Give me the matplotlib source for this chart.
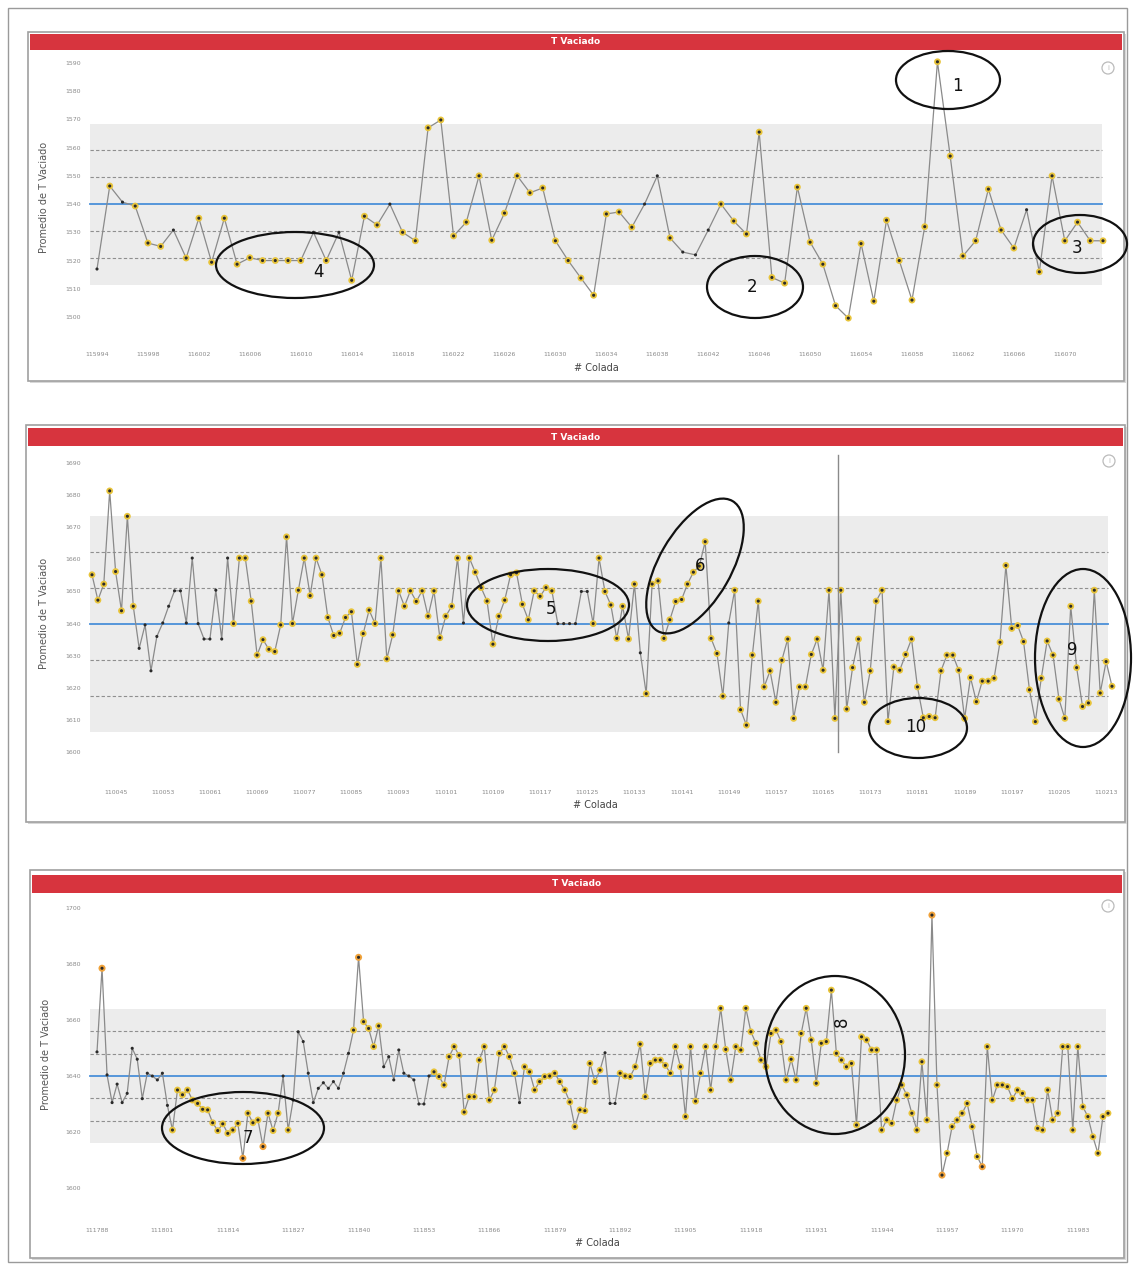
import matplotlib
matplotlib.use("Agg")
import matplotlib.pyplot as plt
from matplotlib.patches import Rectangle, Ellipse, Circle
import numpy as np

# ---------------- DATA ----------------
# Panel 1 (top)
p1_values = [1517, 1546.4, 1540.7, 1539.3, 1526.2, 1525, 1530.8, 1520.9, 1535, 1519.4,
             1535, 1518.7, 1521, 1520, 1520, 1520, 1520, 1530, 1520, 1530,
             1513, 1535.7, 1532.6, 1540, 1530, 1527, 1567, 1569.8, 1528.7, 1533.6,
             1550, 1527.2, 1536.8, 1550, 1544, 1545.7, 1527, 1520, 1513.8, 1507.7,
             1536.5, 1537.2, 1531.8, 1540, 1550, 1528, 1523, 1522, 1530.8, 1540,
             1534, 1529.4, 1565.5, 1514, 1512, 1546, 1526.5, 1518.7, 1504, 1499.6,
             1526, 1505.6, 1534.3, 1520, 1506, 1532, 1590.4, 1557, 1521.6, 1527,
             1545.3, 1530.8, 1524.4, 1538, 1516, 1550, 1527, 1533.6, 1527, 1527]
p1_flags = [0, 1, 0, 1, 1, 1, 0, 1, 1, 1,
            1, 1, 1, 1, 1, 1, 1, 0, 1, 0,
            1, 1, 1, 0, 1, 1, 1, 1, 1, 1,
            1, 1, 1, 1, 1, 1, 1, 1, 1, 1,
            1, 1, 1, 0, 0, 1, 0, 0, 0, 1,
            1, 1, 1, 1, 1, 1, 1, 1, 1, 1,
            1, 1, 1, 1, 1, 1, 1, 1, 1, 1,
            1, 1, 1, 0, 1, 1, 1, 1, 1, 1]
p1_ticklabels = ['115994', '115998', '116002', '116006', '116010', '116014', '116018',
                 '116022', '116026', '116030', '116034', '116038', '116042', '116046',
                 '116050', '116054', '116058', '116062', '116066', '116070']
p1_yticks = [1500, 1510, 1520, 1530, 1540, 1550, 1560, 1570, 1580, 1590]
p1_center, p1_sigma = 1540, 9.5

# Panel 2 (middle)
p2_values = [1655.2, 1647.3, 1652.3, 1681.3, 1656.2, 1644.0, 1673.4, 1645.4, 1632.3, 1639.6,
             1625.3, 1636.0, 1640.2, 1645.4, 1650.2, 1650.2, 1640.2, 1660.4, 1640.0, 1635.2,
             1635.2, 1650.4, 1635.2, 1660.4, 1640.0, 1660.4, 1660.4, 1647.0, 1630.2, 1635.0,
             1632.0, 1631.3, 1639.6, 1667.0, 1640.0, 1650.4, 1660.4, 1648.7, 1660.4, 1655.2,
             1641.9, 1636.3, 1637.0, 1641.9, 1643.7, 1627.3, 1636.9, 1644.2, 1640.0, 1660.4,
             1629.0, 1636.5, 1650.2, 1645.4, 1650.2, 1646.9, 1650.2, 1642.3, 1650.2, 1635.6,
             1642.3, 1645.4, 1660.4, 1640.2, 1660.4, 1656.0, 1651.2, 1647.0, 1633.6, 1642.3,
             1647.3, 1655.2, 1655.8, 1646.0, 1641.2, 1650.2, 1648.5, 1651.2, 1650.2, 1640.0,
             1640.0, 1640.0, 1640.0, 1650.0, 1650.0, 1640.0, 1660.4, 1650.0,
             1645.8, 1635.4, 1645.4, 1635.2, 1652.3, 1630.9, 1618.2, 1652.3, 1653.3, 1635.4,
             1641.2, 1646.9, 1647.5, 1652.3, 1656.0, 1657.9, 1665.5, 1635.4, 1630.7, 1617.4,
             1640.2, 1650.4, 1613.2, 1608.4, 1630.2, 1647.0, 1620.3, 1625.3, 1615.5, 1628.6,
             1635.2, 1610.5, 1620.3, 1620.3, 1630.4, 1635.2, 1625.5, 1650.4, 1610.5, 1650.4,
             1613.4, 1626.3, 1635.2, 1615.5, 1625.3, 1647.0, 1650.4, 1609.5, 1626.5, 1625.5,
             1630.4, 1635.2, 1620.3, 1610.7, 1611.1, 1610.7, 1625.3, 1630.2, 1630.2, 1625.5,
             1610.5, 1623.2, 1615.7, 1622.1, 1622.1, 1623.0, 1634.2, 1658.1, 1638.5, 1639.4,
             1634.4, 1619.4, 1609.5, 1623.0, 1634.6, 1630.2, 1616.5, 1610.5, 1645.4, 1626.3,
             1614.2, 1615.3, 1650.4, 1618.4, 1628.2, 1620.5]
p2_flags = [1, 1, 1, 1, 1, 1, 1, 1, 0, 0,
            0, 0, 0, 0, 0, 0, 0, 0, 0, 0,
            0, 0, 0, 0, 1, 1, 1, 1, 1, 1,
            1, 1, 1, 1, 1, 1, 1, 1, 1, 1,
            1, 1, 1, 1, 1, 1, 1, 1, 1, 1,
            1, 1, 1, 1, 1, 1, 1, 1, 1, 1,
            1, 1, 1, 0, 1, 1, 1, 1, 1, 1,
            1, 1, 1, 1, 1, 1, 1, 1, 1, 0,
            0, 0, 0, 0, 0, 1, 1, 1,
            1, 1, 1, 1, 1, 0, 1, 1, 1, 1,
            1, 1, 1, 1, 1, 1, 1, 1, 1, 1,
            0, 1, 1, 1, 1, 1, 1, 1, 1, 1,
            1, 1, 1, 1, 1, 1, 1, 1, 1, 1,
            1, 1, 1, 1, 1, 1, 1, 1, 1, 1,
            1, 1, 1, 1, 1, 1, 1, 1, 1, 1,
            1, 1, 1, 1, 1, 1, 1, 1, 1, 1,
            1, 1, 1, 1, 1, 1, 1, 1, 1, 1,
            1, 1, 1, 1, 1, 1]
p2_first_tick = 4
p2_ticklabels = ['110045', '110053', '110061', '110069', '110077', '110085', '110093',
                 '110101', '110109', '110117', '110125', '110133', '110141', '110149',
                 '110157', '110165', '110173', '110181', '110189', '110197', '110205',
                 '110213', '110221']
p2_yticks = [1600, 1610, 1620, 1630, 1640, 1650, 1660, 1670, 1680, 1690]
p2_center, p2_sigma = 1640, 11.2

# Panel 3 (bottom)
p3_values = [1648.6, 1678.5, 1640.4, 1630.5, 1637.1, 1630.5, 1633.8, 1649.9, 1646.0, 1631.9,
             1641.0, 1640.0, 1638.6, 1641.0, 1629.5, 1620.7, 1635.0, 1633.3, 1635.0, 1631.4,
             1630.2, 1628.1, 1627.9, 1623.3, 1620.5, 1622.9, 1619.5, 1620.7, 1623.1, 1610.6,
             1626.7, 1623.3, 1624.3, 1614.8, 1626.7, 1620.5, 1626.7, 1640.0, 1620.7, 1631.4,
             1655.8, 1652.3, 1641.0, 1630.5, 1635.6, 1637.6, 1635.6, 1638.0, 1635.6, 1641.0,
             1648.1, 1656.4, 1682.4, 1659.4, 1657.0, 1650.5, 1657.9, 1643.3, 1646.9, 1638.6,
             1649.3, 1641.0, 1640.0, 1638.6, 1630.0, 1630.0, 1640.0, 1641.5, 1639.8, 1636.8,
             1646.9, 1650.5, 1647.4, 1627.1, 1632.6, 1632.6, 1645.7, 1650.5, 1631.4, 1635.0,
             1648.1, 1650.5, 1646.9, 1641.0, 1630.5, 1643.3, 1641.5, 1635.0, 1638.0, 1639.8,
             1640.0, 1641.0, 1638.0, 1635.0, 1630.7, 1621.9, 1627.9, 1627.6, 1644.5, 1638.0,
             1642.1, 1648.3, 1630.2, 1630.2, 1641.0, 1640.0, 1639.8, 1643.3, 1651.4, 1632.6,
             1644.5, 1645.7, 1645.7, 1643.8, 1641.0, 1650.5, 1643.3, 1625.5, 1650.5, 1631.0,
             1641.0, 1650.5, 1635.0, 1650.5, 1664.2, 1649.5, 1638.6, 1650.5, 1649.3, 1664.2,
             1655.8, 1651.7, 1645.7, 1643.3, 1655.2, 1656.4, 1652.3, 1638.6, 1646.0, 1638.6,
             1655.2, 1664.2, 1652.9, 1637.4, 1651.7, 1652.3, 1670.7, 1648.1, 1645.7, 1643.3,
             1644.5, 1622.5, 1654.0, 1652.9, 1649.3, 1649.3, 1620.7, 1624.3, 1623.1, 1631.4,
             1636.8, 1633.2, 1626.7, 1620.7, 1645.1, 1624.3, 1697.5, 1636.8, 1604.6, 1612.4,
             1621.9, 1624.3, 1626.7, 1630.2, 1621.9, 1611.2, 1607.6, 1650.5, 1631.4, 1636.8,
             1636.8, 1636.2, 1631.9, 1635.0, 1633.8, 1631.4, 1631.4, 1621.3, 1620.7, 1635.0,
             1624.3, 1626.7, 1650.5, 1650.5, 1620.7, 1650.5, 1629.0, 1625.5, 1618.3, 1612.4,
             1625.5, 1626.7]
p3_flags = [0, 2, 0, 0, 0, 0, 0, 0, 0, 0,
            0, 0, 0, 0, 0, 1, 1, 1, 1, 1,
            1, 1, 1, 1, 1, 1, 1, 1, 1, 2,
            1, 1, 1, 2, 1, 1, 1, 0, 1, 0,
            0, 0, 0, 0, 0, 0, 0, 0, 0, 0,
            0, 1, 2, 1, 1, 1, 1, 0, 0, 0,
            0, 0, 0, 0, 0, 0, 0, 1, 1, 1,
            1, 1, 1, 1, 1, 1, 1, 1, 1, 1,
            1, 1, 1, 1, 0, 1, 1, 1, 1, 1,
            1, 1, 1, 1, 1, 1, 1, 1, 1, 1,
            1, 0, 0, 0, 1, 1, 1, 1, 1, 1,
            1, 1, 1, 1, 1, 1, 1, 1, 1, 1,
            1, 1, 1, 1, 1, 1, 1, 1, 1, 1,
            1, 1, 1, 1, 1, 1, 1, 1, 1, 1,
            1, 1, 1, 1, 1, 1, 1, 1, 1, 1,
            1, 1, 1, 1, 1, 1, 1, 1, 1, 1,
            1, 1, 1, 1, 1, 1, 2, 1, 2, 1,
            1, 1, 1, 1, 1, 1, 2, 1, 1, 1,
            1, 1, 1, 1, 1, 1, 1, 1, 1, 1,
            1, 1, 1, 1, 1, 1, 1, 1, 1, 1,
            1, 1]
p3_ticklabels = ['111788', '111801', '111814', '111827', '111840', '111853', '111866',
                 '111879', '111892', '111905', '111918', '111931', '111944', '111957',
                 '111970', '111983']
p3_yticks = [1600, 1620, 1640, 1660, 1680, 1700]
p3_center, p3_sigma = 1640, 8.0

# ---------------- STYLE / LAYOUT ----------------
W, H = 1134, 1268
fig = plt.figure(figsize=(W / 100, H / 100), dpi=100)
fig.patch.set_facecolor('white')

bg = fig.add_axes([0, 0, 1, 1], zorder=0)
bg.set_xlim(0, W)
bg.set_ylim(H, 0)
bg.axis('off')

ov = fig.add_axes([0, 0, 1, 1], zorder=10)
ov.set_xlim(0, W)
ov.set_ylim(H, 0)
ov.axis('off')
ov.patch.set_alpha(0)

RED = '#D7343E'
YEL = '#E8C43A'
ORA = '#F0A23A'


def px_axes(L, T, R, B):
    return fig.add_axes([L / W, 1 - B / H, (R - L) / W, (B - T) / H], zorder=5)


# outer frame
bg.add_patch(Rectangle((8, 8), 1119, 1254, fill=False, ec='#9a9a9a', lw=1.0))

panels = [
    dict(values=p1_values, flags=p1_flags, labels=p1_ticklabels, yt=p1_yticks,
         c=p1_center, s=p1_sigma, first_tick=0, step=4,
         box=(28, 32, 1124, 381), bar=(34, 50), ax=(85, 55, 1112, 330),
         xfirst=97, xlast=1103, ylims=(1495.4, 1592.8),
         ticky=352, xlaby=368, ylabx=44),
    dict(values=p2_values, flags=p2_flags, labels=p2_ticklabels, yt=p2_yticks,
         c=p2_center, s=p2_sigma, first_tick=p2_first_tick, step=8,
         box=(26, 425, 1125, 822), bar=(428, 446), ax=(85, 452, 1118, 765),
         xfirst=92, xlast=1112, ylims=(1596.0, 1693.4),
         ticky=790, xlaby=805, ylabx=44),
    dict(values=p3_values, flags=p3_flags, labels=p3_ticklabels, yt=p3_yticks,
         c=p3_center, s=p3_sigma, first_tick=0, step=13,
         box=(30, 870, 1124, 1258), bar=(875, 893), ax=(85, 898, 1116, 1200),
         xfirst=97, xlast=1108, ylims=(1595.7, 1703.6),
         ticky=1228, xlaby=1243, ylabx=46),
]

for p in panels:
    L, T, R, B = p['box']
    bg.add_patch(Rectangle((L + 2, T + 2), R - L, B - T, fc='#d8d8d8', ec='none'))
    bg.add_patch(Rectangle((L, T), R - L, B - T, fc='white', ec='#a0a0a0', lw=1.2))
    t0, t1 = p['bar']
    bg.add_patch(Rectangle((L + 2, t0), R - L - 4, t1 - t0, fc=RED, ec='none'))
    bg.text((L + R) / 2, (t0 + t1) / 2, 'T Vaciado', color='white', fontsize=6.5,
            fontweight='bold', ha='center', va='center')

    vals = np.array(p['values'], dtype=float)
    flg = np.array(p['flags'][:len(vals)] + [1] * max(0, len(vals) - len(p['flags'])))
    n = len(vals)
    x = np.arange(n)
    aL, aT, aR, aB = p['ax']
    sp = (p['xlast'] - p['xfirst']) / (n - 1)
    ax = px_axes(aL, aT, aR, aB)
    ax.set_xlim((aL - p['xfirst']) / sp, (aR - p['xfirst']) / sp)
    ax.set_ylim(*p['ylims'])
    ax.patch.set_alpha(0)
    for sname in ax.spines:
        ax.spines[sname].set_visible(False)

    c, s = p['c'], p['s']
    ax.axhspan(c - 3 * s, c + 3 * s, xmin=0.005, xmax=0.99, color='#ececec', zorder=0, lw=0)
    for k in (-2, -1, 1, 2):
        ax.axhline(c + k * s, xmin=0.005, xmax=0.99, color='#8f8f8f', lw=0.8,
                   ls=(0, (3, 2)), zorder=1)
    ax.axhline(c, xmin=0.005, xmax=0.99, color='#4a90d9', lw=1.3, zorder=1)

    ax.plot(x, vals, color='#8a8a8a', lw=0.9, zorder=3)
    m1 = flg == 1
    m2 = flg == 2
    ax.scatter(x[m1], vals[m1], s=24, color=YEL, edgecolors='none', zorder=4)
    ax.scatter(x[m2], vals[m2], s=26, color=ORA, edgecolors='none', zorder=4)
    ax.scatter(x, vals, s=5, color='#2a2a2a', edgecolors='none', zorder=5)

    ax.set_yticks(p['yt'])
    ax.set_yticklabels([str(v) for v in p['yt']], fontsize=4.5, color='#8a8a8a')
    ticks = list(range(p['first_tick'], n, p['step']))[:len(p['labels'])]
    ax.set_xticks(ticks)
    ax.set_xticklabels(p['labels'][:len(ticks)], fontsize=4.5, color='#8a8a8a')
    ax.tick_params(length=0, pad=3)
    ax.tick_params(axis='x', pad=(p['ticky'] - aB) * 0.72)

    bg.text(p['ylabx'], (aT + aB) / 2 + 5, 'Promedio de T Vaciado', rotation=90,
            fontsize=7, color='#555555', ha='center', va='center')
    bg.text((L + R) / 2 + 20, p['xlaby'], '# Colada', fontsize=7, color='#444444',
            ha='center', va='center')
    # info icon
    bg.add_patch(Circle((R - 16, T + 36), 6, fill=False, ec='#bbbbbb', lw=0.9))
    bg.text(R - 16, T + 36, 'i', fontsize=5, color='#bbbbbb', ha='center', va='center')

# vertical cursor line in middle panel
ov.plot([838, 838], [455, 752], color='#8a8a8a', lw=1.0)

# ---------------- hand-drawn annotations ----------------
ann = [
    ((948, 80), 104, 58, 0, '1', (957, 86), 0),
    ((755, 287), 96, 62, 0, '2', (752, 287), 0),
    ((1080, 244), 94, 58, 0, '3', (1077, 248), 0),
    ((295, 265), 158, 66, 0, '4', (318, 272), 0),
    ((548, 605), 162, 72, 0, '5', (551, 609), 0),
    ((695, 566), 72, 150, 30, '6', (700, 566), 0),
    ((1083, 658), 96, 178, 0, '9', (1072, 650), 0),
    ((918, 728), 98, 60, 0, '10', (916, 727), 0),
    ((243, 1128), 162, 72, 0, '7', (248, 1138), 0),
    ((835, 1055), 140, 158, 0, '8', (842, 1022), 90),
]
for (cx, cy), w, h, ang, lab, (tx, ty), rot in ann:
    ov.add_patch(Ellipse((cx, cy), w, h, angle=ang, fill=False, ec='#111111', lw=1.6))
    ov.text(tx, ty, lab, fontsize=12, color='#111111', ha='center', va='center',
            rotation=rot)

fig.savefig('out.png', dpi=100, facecolor='white')
